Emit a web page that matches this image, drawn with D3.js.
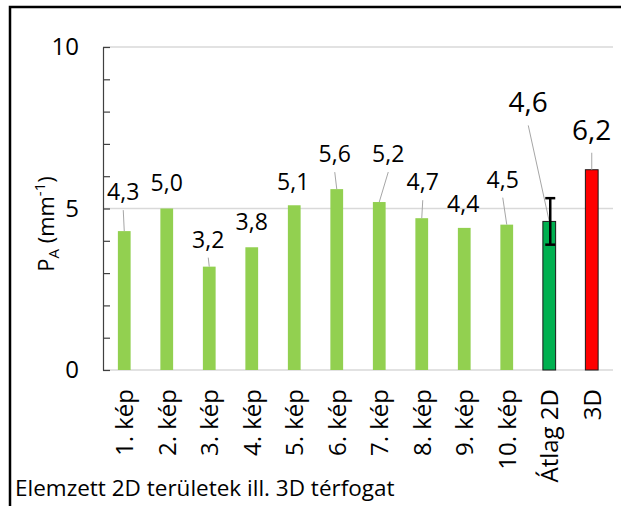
<!DOCTYPE html>
<html>
<head>
<meta charset="utf-8">
<script src="https://cdn.jsdelivr.net/npm/d3@7"></script>
<style>
  html, body { margin: 0; background: #fff; overflow: hidden; }
  svg { display: block; }
  text { font-family: "Open Sans", sans-serif; fill: #000; }
</style>
</head>
<body>
<script>
// data
var categories = ["1. kép", "2. kép", "3. kép", "4. kép", "5. kép", "6. kép",
                  "7. kép", "8. kép", "9. kép", "10. kép", "Átlag 2D", "3D"]
var values = [4.3, 5.0, 3.2, 3.8, 5.1, 5.6, 5.2, 4.7, 4.4, 4.5, 4.6, 6.2]
var kinds = ["img", "img", "img", "img", "img", "img", "img", "img", "img", "img", "avg", "3d"]
var errAvg = 0.72
var yTicks = [0, 5, 10]

// label placement (px offset from the bar top)
var labelDx = [-1, 0, -1, 0, -1, -2, 9, 1, -1, -4, -21, 0]
var labelDy = [-31, -18, -19, -17, -15, -27, -40, -28, -16, -37, -109, -30]

var W = 621, H = 506
var c = {left: 103, right: 613, top: 47, bottom: 370}

var svg = d3.select("body").append("svg")
    .attr("width", W)
    .attr("height", H)

// outer frame, only top and left edges are inside the picture
svg.append("path")
    .attr("d", "M10," + H + "V7H" + W)
    .attr("fill", "none")
    .attr("stroke", "#000")
    .attr("stroke-width", 2.5)

var x = d3.scaleBand().domain(categories).range([c.left, c.right]).paddingInner(0.7).paddingOuter(0.35)
var y = d3.scaleLinear().domain([0, 10]).range([c.bottom, c.top])

var color = {img: "#92D050", avg: "#00B050", "3d": "#FF0000"}

// gridlines
svg.append("g").selectAll("line")
    .data(yTicks)
  .enter().append("line")
    .attr("x1", c.left).attr("x2", c.right)
    .attr("y1", function(d){ return y(d) }).attr("y2", function(d){ return y(d) })
    .attr("stroke", "#D9D9D9")
    .attr("stroke-width", 1.3)

// y axis, ticks pointing inward
var yAxis = d3.axisRight(y).tickValues(d3.range(0, 11)).tickSize(7).tickSizeOuter(0).tickFormat("")
var ga = svg.append("g")
    .attr("transform", "translate(" + c.left + ",0)")
    .call(yAxis)
ga.select(".domain").attr("stroke", "#404040").attr("stroke-width", 1.2)
ga.selectAll(".tick line").attr("stroke", "#404040").attr("stroke-width", 1.2)

svg.append("g").selectAll("text")
    .data(yTicks)
  .enter().append("text")
    .attr("x", 79)
    .attr("y", function(d){ return y(d) + 8 })
    .attr("text-anchor", "end")
    .style("font-size", "24px")
    .text(function(d){ return d })

// bars
var bw = x.bandwidth()
svg.append("g").selectAll("rect")
    .data(values)
  .enter().append("rect")
    .attr("x", function(d, i){ return x(categories[i]) })
    .attr("y", function(d){ return y(d) })
    .attr("width", bw)
    .attr("height", function(d){ return y(0) - y(d) })
    .attr("fill", function(d, i){ return color[kinds[i]] })
    .attr("stroke", function(d, i){ return kinds[i] == "img" ? "none" : "#1a1a1a" })
    .attr("stroke-width", 1)

// value labels and leader lines
values.forEach(function(v, i){
  var cx = x(categories[i]) + bw / 2
  var top = y(v)
  var lx = cx + labelDx[i]
  var ly = top + labelDy[i]
  var big = kinds[i] != "img"
  var start = ly + (big ? 13 : 10)
  if (top - start > 8) {
    svg.append("line")
        .attr("x1", lx).attr("y1", start)
        .attr("x2", cx).attr("y2", top)
        .attr("stroke", "#A6A6A6")
        .attr("stroke-width", 1)
  }
  svg.append("text")
      .attr("x", lx).attr("y", ly)
      .attr("text-anchor", "middle")
      .style("font-size", big ? "28px" : "23px")
      .text(d3.format(".1f")(v).replace(".", ","))
})

// error bar on the average
var ai = kinds.indexOf("avg")
var ax = x(categories[ai]) + bw / 2 + 1
var eb = svg.append("g").attr("stroke", "#000").attr("stroke-width", 2.5)
eb.append("line")
    .attr("x1", ax).attr("x2", ax)
    .attr("y1", y(values[ai] + errAvg)).attr("y2", y(values[ai] - errAvg))
eb.selectAll(".cap")
    .data([values[ai] + errAvg, values[ai] - errAvg])
  .enter().append("line")
    .attr("x1", ax - 5).attr("x2", ax + 5)
    .attr("y1", function(d){ return y(d) }).attr("y2", function(d){ return y(d) })

// category labels, rotated
svg.append("g").selectAll("text")
    .data(categories)
  .enter().append("text")
    .attr("transform", function(d){
      return "translate(" + (x(d) + bw / 2 + 9) + ",389) rotate(-90)" })
    .attr("text-anchor", "end")
    .style("font-size", "24px")
    .text(function(d){ return d })

// axis titles
var yt = svg.append("text")
    .attr("transform", "translate(54,224) rotate(-90)")
    .attr("text-anchor", "middle")
    .style("font-size", "22px")
yt.append("tspan").text("P")
yt.append("tspan").attr("dy", 5).style("font-size", "15px").text("A")
yt.append("tspan").attr("dy", -5).text(" (mm")
yt.append("tspan").attr("dy", -9).style("font-size", "15px").text("-1")
yt.append("tspan").attr("dy", 9).text(")")

svg.append("text")
    .attr("x", 15).attr("y", 496)
    .style("font-size", "22.5px")
    .text("Elemzett 2D területek ill. 3D térfogat")
</script>
</body>
</html>
